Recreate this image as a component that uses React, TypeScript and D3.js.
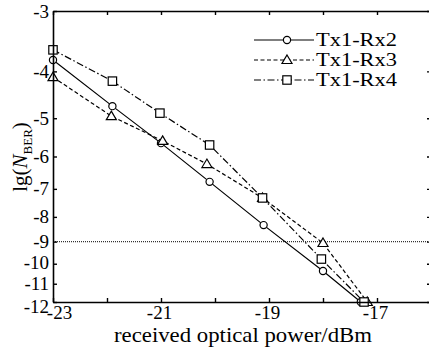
import React, { useEffect, useRef } from 'react';
import * as d3 from 'd3';

const width = 429;
const height = 348;
const margin = { top: 11, right: -2, bottom: 46, left: 53 };

// received optical power (dBm)
const powerRx2 = [-23, -21.9, -21, -20.1, -19.1, -18, -17.3];
const powerRx3 = [-23, -21.92, -20.97, -20.15, -19.12, -18, -17.18];
const powerRx4 = [-23, -21.9, -21.02, -20.1, -19.12, -18.03, -17.24];

// lg(N_BER)
const berRx2 = [-3.79, -4.72, -5.63, -6.77, -8.32, -10.35, -12];
const berRx3 = [-4.11, -4.95, -5.57, -6.22, -7.31, -9.06, -12];
const berRx4 = [-3.61, -4.19, -4.88, -5.68, -7.31, -9.78, -12];

const seriesNames = ['Tx1-Rx2', 'Tx1-Rx3', 'Tx1-Rx4'];
const xTicks = [-23, -22, -21, -20, -19, -18, -17, -16];
const xTickLabels = ['-23', '', '-21', '', '-19', '', '-17', ''];
const yTicks = [-3, -4, -5, -6, -7, -8, -9, -10, -11, -12];
const threshold = -9;

const font = '"Liberation Serif", "DejaVu Serif", serif';

const LineChart = () => {
  const svgRef = useRef<SVGSVGElement>(null);

  useEffect(() => {
    const svg = d3.select(svgRef.current);
    svg.selectAll('*').remove();

    const x0 = margin.left;
    const x1 = width - margin.right;
    const y0 = margin.top;
    const y1 = height - margin.bottom;

    const xScale = d3.scaleLinear().domain([-23, -16]).range([x0, x1]);
    // the y axis is log-scaled on -lg(N_BER)
    const yLog = d3.scaleLog().domain([3, 12]).range([y0, y1]);
    const yScale = (v: number) => yLog(-v);

    const series = [
      { name: seriesNames[0], xs: powerRx2, ys: berRx2, dash: null, marker: 'circle' },
      { name: seriesNames[1], xs: powerRx3, ys: berRx3, dash: '4,2.5', marker: 'triangle' },
      { name: seriesNames[2], xs: powerRx4, ys: berRx4, dash: '7,2.5,1.5,2.5', marker: 'square' },
    ];

    const drawMarker = (g: any, kind: string, cx: number, cy: number) => {
      if (kind === 'circle') {
        g.append('circle').attr('cx', cx).attr('cy', cy).attr('r', 3.6)
          .attr('fill', 'white').attr('stroke', 'black').attr('stroke-width', 1.2);
      } else if (kind === 'triangle') {
        const s = 5;
        g.append('path')
          .attr('d', `M${cx},${cy - s}L${cx + s},${cy + s * 0.7}L${cx - s},${cy + s * 0.7}Z`)
          .attr('fill', 'white').attr('stroke', 'black').attr('stroke-width', 1.2);
      } else {
        const s = 4.2;
        g.append('rect').attr('x', cx - s).attr('y', cy - s).attr('width', 2 * s).attr('height', 2 * s)
          .attr('fill', 'white').attr('stroke', 'black').attr('stroke-width', 1.2);
      }
    };

    // threshold line
    svg.append('line')
      .attr('x1', x0).attr('x2', x1)
      .attr('y1', yScale(threshold)).attr('y2', yScale(threshold))
      .attr('stroke', '#333').attr('stroke-width', 1.3).attr('stroke-dasharray', '1,1');

    // series lines
    const line = d3.line<[number, number]>()
      .x(d => xScale(d[0]))
      .y(d => yScale(d[1]));

    series.forEach(s => {
      const pts = s.xs.map((v, i) => [v, s.ys[i]] as [number, number]);
      svg.append('path')
        .datum(pts)
        .attr('fill', 'none')
        .attr('stroke', 'black')
        .attr('stroke-width', 1.2)
        .attr('stroke-dasharray', s.dash)
        .attr('d', line);
    });
    series.forEach(s => {
      const g = svg.append('g');
      s.xs.forEach((v, i) => drawMarker(g, s.marker, xScale(v), yScale(s.ys[i])));
    });

    // axes
    const axisStyle = (g: any) => {
      g.select('.domain').attr('stroke', 'black').attr('stroke-width', 1.6);
      g.selectAll('.tick line').attr('stroke', 'black').attr('stroke-width', 1.4);
      g.selectAll('.tick text').attr('font-family', font).attr('font-size', 20).attr('fill', 'black');
    };

    svg.append('g')
      .attr('transform', `translate(0,${y1})`)
      .call(d3.axisBottom(xScale).tickValues(xTicks)
        .tickFormat((d, i) => xTickLabels[i]).tickSizeInner(-4).tickSizeOuter(0).tickPadding(3))
      .call(axisStyle)
      .call((g: any) => g.selectAll('.tick text')
        .attr('font-size', 19)
        .attr('dx', (d: number) => (d === -23 ? 6 : -2)));

    svg.append('g')
      .attr('transform', `translate(0,${y0})`)
      .call(d3.axisTop(xScale).tickValues(xTicks).tickFormat(() => '').tickSizeInner(-4).tickSizeOuter(0))
      .call(axisStyle);

    svg.append('g')
      .attr('transform', `translate(${x0},0)`)
      .call(d3.axisLeft(yLog).tickValues(yTicks.map(v => -v))
        .tickFormat(d => `-${d}`).tickSizeInner(-4).tickSizeOuter(0).tickPadding(4))
      .call(axisStyle)
      .call((g: any) => g.selectAll('.tick text')
        .attr('font-size', 19)
        .attr('y', (d: number) => (d === 12 ? 4.5 : d === 10 ? -1 : 0)));

    svg.append('g')
      .attr('transform', `translate(${x1},0)`)
      .call(d3.axisRight(yLog).tickValues(yTicks.map(v => -v)).tickFormat(() => '').tickSizeInner(-4).tickSizeOuter(0))
      .call(axisStyle);

    // axis titles
    svg.append('text')
      .attr('x', 243)
      .attr('y', 342)
      .attr('text-anchor', 'middle')
      .attr('font-family', font)
      .attr('font-size', 22)
      .attr('textLength', 258)
      .attr('lengthAdjust', 'spacingAndGlyphs')
      .text('received optical power/dBm');

    const yt = svg.append('text')
      .attr('transform', 'translate(27,157) rotate(-90)')
      .attr('text-anchor', 'middle')
      .attr('font-family', font)
      .attr('font-size', 21);
    yt.append('tspan').text('lg(');
    yt.append('tspan').attr('font-style', 'italic').text('N');
    yt.append('tspan').attr('font-size', 13).attr('dy', 5).text('BER');
    yt.append('tspan').attr('dy', -5).text(')');

    // legend
    const legend = svg.append('g');
    series.forEach((s, i) => {
      const ly = 40 + i * 20;
      legend.append('line')
        .attr('x1', 254).attr('x2', 314).attr('y1', ly).attr('y2', ly)
        .attr('stroke', 'black').attr('stroke-width', 1.2)
        .attr('stroke-dasharray', s.dash);
      drawMarker(legend, s.marker, 287, ly);
      legend.append('text')
        .attr('x', 316).attr('y', ly + 6)
        .attr('font-family', font).attr('font-size', 18)
        .attr('textLength', 81)
        .attr('lengthAdjust', 'spacingAndGlyphs')
        .text(s.name);
    });
  }, []);

  return (
    <svg ref={svgRef} width={width} height={height}
      style={{ position: 'absolute', left: 0, top: 0, background: 'white' }} />
  );
};

export default function App() {
  return <LineChart />;
}
